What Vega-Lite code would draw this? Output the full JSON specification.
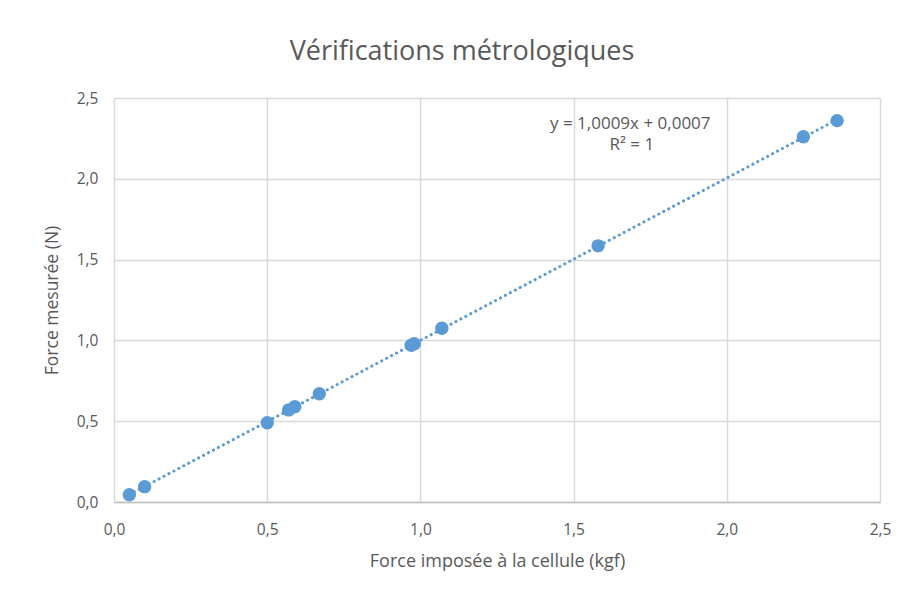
{
  "$schema": "https://vega.github.io/schema/vega-lite/v6.json",
  "width": 766,
  "height": 404,
  "autosize": {"type": "none"},
  "padding": {"left": 114, "top": 98, "right": 19, "bottom": 92},
  "background": "white",
  "config": {
    "font": "Open Sans",
    "view": {"stroke": null},
    "locale": {"number": {"decimal": ",", "thousands": " ", "grouping": [3], "currency": ["", " €"]}}
  },
  "title": {
    "text": "Vérifications métrologiques",
    "fontSize": 27,
    "font": "Open Sans",
    "fontWeight": "normal",
    "color": "#595959",
    "anchor": "middle",
    "dx": -35,
    "offset": 25
  },
  "data": {
    "values": [
      {"imposee": 0.05, "mesuree": 0.045},
      {"imposee": 0.10, "mesuree": 0.095},
      {"imposee": 0.50, "mesuree": 0.49},
      {"imposee": 0.57, "mesuree": 0.57},
      {"imposee": 0.59, "mesuree": 0.59},
      {"imposee": 0.67, "mesuree": 0.67},
      {"imposee": 0.97, "mesuree": 0.97},
      {"imposee": 0.98, "mesuree": 0.98},
      {"imposee": 1.07, "mesuree": 1.075},
      {"imposee": 1.58, "mesuree": 1.585},
      {"imposee": 2.25, "mesuree": 2.26},
      {"imposee": 2.36, "mesuree": 2.36}
    ]
  },
  "layer": [
    {
      "transform": [{"regression": "mesuree", "on": "imposee", "method": "linear"}],
      "mark": {"type": "line", "color": "#5b9bd5", "strokeWidth": 3, "strokeDash": [0.1, 5.5], "strokeCap": "round"},
      "encoding": {
        "x": {"field": "imposee", "type": "quantitative"},
        "y": {"field": "mesuree", "type": "quantitative"}
      }
    },
    {
      "mark": {"type": "circle", "color": "#5b9bd5", "opacity": 1, "size": 180},
      "encoding": {
        "x": {
          "field": "imposee",
          "type": "quantitative",
          "scale": {"domain": [0, 2.5], "nice": false},
          "axis": {
            "title": "Force imposée à la cellule (kgf)",
            "values": [0, 0.5, 1, 1.5, 2, 2.5],
            "format": ".1f",
            "labelFlush": false,
            "labelFontSize": 15.5,
            "labelColor": "#595959",
            "labelPadding": 20,
            "titleFontSize": 18,
            "titleFontWeight": "normal",
            "titleColor": "#595959",
            "titlePadding": 15,
            "ticks": false,
            "domain": true,
            "domainColor": "#bfbfbf",
            "domainWidth": 1.5,
            "grid": true,
            "gridColor": "#d9d9d9",
            "gridWidth": 1.5
          }
        },
        "y": {
          "field": "mesuree",
          "type": "quantitative",
          "scale": {"domain": [0, 2.5], "nice": false},
          "axis": {
            "title": "Force mesurée (N)",
            "values": [0, 0.5, 1, 1.5, 2, 2.5],
            "format": ".1f",
            "labelFlush": false,
            "labelFontSize": 15.5,
            "labelColor": "#595959",
            "labelPadding": 16,
            "titleFontSize": 17.5,
            "titleFontWeight": "normal",
            "titleColor": "#595959",
            "titlePadding": 15,
            "ticks": false,
            "domain": false,
            "grid": true,
            "gridColor": "#d9d9d9",
            "gridWidth": 1.5
          }
        }
      }
    },
    {
      "data": {"values": [
        {"x": 1.685, "y": 2.34, "label": "y = 1,0009x + 0,0007"},
        {"x": 1.69, "y": 2.21, "label": "R² = 1"}
      ]},
      "mark": {"type": "text", "fontSize": 17, "color": "#595959", "align": "center", "baseline": "middle"},
      "encoding": {
        "x": {"field": "x", "type": "quantitative"},
        "y": {"field": "y", "type": "quantitative"},
        "text": {"field": "label"}
      }
    }
  ]
}
